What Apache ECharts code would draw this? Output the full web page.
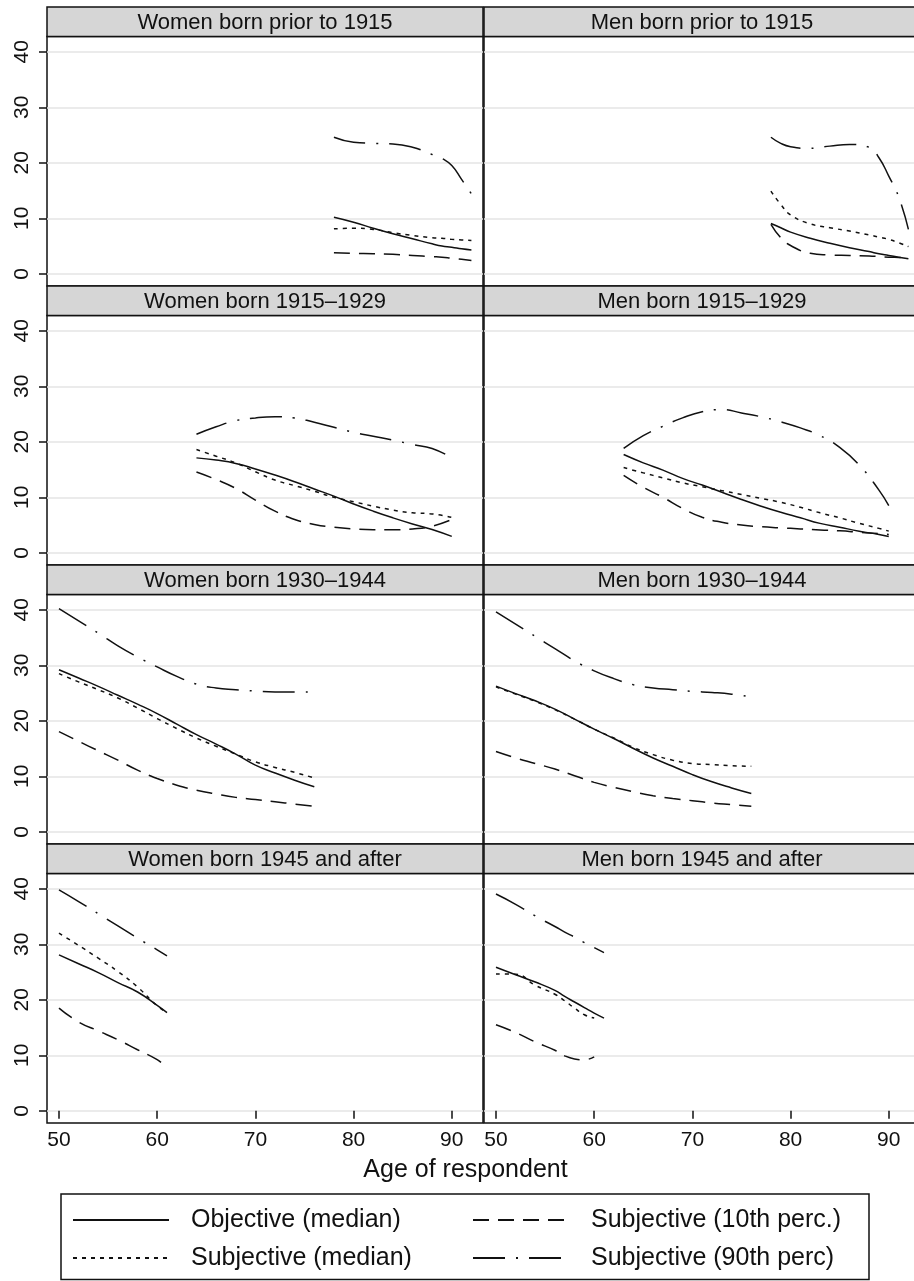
<!DOCTYPE html>
<html>
<head>
<meta charset="utf-8">
<script src="https://cdn.jsdelivr.net/npm/echarts@6/dist/echarts.min.js"></script>
<style>
html,body{margin:0;padding:0;background:#fff;}
#chart{width:914px;height:1281px;}
</style>
</head>
<body>
<div id="chart"></div>
<script>
// ---------- DATA ----------
const panelTitles = [
  'Women born prior to 1915', 'Men born prior to 1915',
  'Women born 1915\u20131929', 'Men born 1915\u20131929',
  'Women born 1930\u20131944', 'Men born 1930\u20131944',
  'Women born 1945 and after', 'Men born 1945 and after'
];
const seriesNames = ['Objective (median)', 'Subjective (median)', 'Subjective (10th perc.)', 'Subjective (90th perc)'];
const xTicks = [50, 60, 70, 80, 90];
const yTicks = [0, 10, 20, 30, 40];
const axisTitle = 'Age of respondent';

// Women born prior to 1915
const agesWomenPre1915 = [78, 80, 82, 84, 86, 88, 89, 90, 91, 92];
const objWomenPre1915  = [10.2, 9.3, 8.2, 7.2, 6.3, 5.4, 5.0, 4.8, 4.5, 4.3];
const medWomenPre1915  = [8.1, 8.2, 8.0, 7.4, 6.9, 6.5, 6.4, 6.2, 6.1, 6.0];
const p10WomenPre1915  = [3.8, 3.7, 3.6, 3.5, 3.3, 3.1, 3.0, 2.8, 2.6, 2.4];
const p90WomenPre1915  = [24.6, 23.7, 23.5, 23.4, 22.8, 21.5, 20.8, 19.5, 17.0, 14.4];

// Men born prior to 1915
const agesMenPre1915 = [78, 79, 80, 82, 84, 86, 88, 89, 90, 91, 92];
const objMenPre1915  = [9.05, 8.3, 7.5, 6.4, 5.5, 4.7, 4.0, 3.6, 3.3, 3.0, 2.7];
const medMenPre1915  = [14.9, 12.5, 10.6, 9.0, 8.3, 7.7, 7.0, 6.6, 6.2, 5.6, 4.9];
const p10MenPre1915  = [8.9, 6.5, 5.1, 3.7, 3.4, 3.3, 3.2, 3.1, 3.0, 2.95, 2.9];
const p90MenPre1915  = [24.6, 23.5, 22.9, 22.6, 23.0, 23.3, 22.8, 20.9, 17.6, 13.9, 8.0];

// Women born 1915-1929
const agesWomen1915 = [64, 66, 68, 70, 72, 74, 76, 78, 80, 82, 84, 86, 88, 90];
const objWomen1915  = [17.1, 16.7, 16.1, 15.1, 14.0, 12.8, 11.5, 10.2, 8.8, 7.5, 6.3, 5.2, 4.2, 2.95];
const medWomen1915  = [18.6, 17.4, 16.2, 14.6, 13.1, 12.1, 11.1, 10.0, 9.2, 8.4, 7.7, 7.2, 7.0, 6.4];
const p10Women1915  = [14.55, 13.2, 11.6, 9.5, 7.5, 6.0, 5.1, 4.6, 4.3, 4.15, 4.15, 4.3, 4.8, 6.0];
const p90Women1915  = [21.35, 22.7, 23.8, 24.3, 24.5, 24.3, 23.5, 22.6, 21.7, 21.0, 20.3, 19.5, 18.8, 17.1];

// Men born 1915-1929
const agesMen1915 = [63, 65, 67, 69, 71, 73, 75, 77, 79, 81, 83, 85, 87, 89, 90];
const objMen1915  = [17.7, 16.2, 14.9, 13.4, 12.2, 10.9, 9.6, 8.4, 7.3, 6.3, 5.3, 4.6, 3.9, 3.3, 2.95];
const medMen1915  = [15.35, 14.4, 13.5, 12.6, 11.9, 11.2, 10.5, 9.8, 9.1, 8.2, 7.2, 6.3, 5.3, 4.4, 3.9];
const p10Men1915  = [13.95, 11.8, 10.0, 8.0, 6.4, 5.5, 5.0, 4.7, 4.5, 4.3, 4.1, 3.95, 3.7, 3.45, 3.3];
const p90Men1915  = [18.8, 21.1, 22.8, 24.3, 25.4, 25.8, 25.2, 24.5, 23.6, 22.5, 21.1, 19.0, 15.8, 11.3, 8.5];

// Women born 1930-1944
const agesWomen1930 = [50, 52, 54, 56, 58, 60, 62, 64, 66, 68, 70, 72, 74, 76];
const objWomen1930  = [29.2, 27.7, 26.2, 24.6, 23.0, 21.3, 19.4, 17.5, 15.8, 14.0, 12.0, 10.6, 9.3, 8.1];
const medWomen1930  = [28.5, 27.0, 25.6, 24.1, 22.3, 20.4, 18.6, 16.9, 15.4, 14.0, 12.6, 11.6, 10.7, 9.7];
const p10Women1930  = [18.05, 16.3, 14.6, 12.9, 11.1, 9.6, 8.4, 7.5, 6.8, 6.2, 5.8, 5.4, 5.0, 4.6];
const p90Women1930  = [40.2, 38.0, 35.8, 33.5, 31.5, 29.7, 28.0, 26.6, 25.9, 25.6, 25.35, 25.2, 25.2, 25.2];

// Men born 1930-1944
const agesMen1930 = [50, 52, 54, 56, 58, 60, 62, 64, 66, 68, 70, 72, 74, 76];
const objMen1930  = [26.25, 24.9, 23.6, 22.1, 20.3, 18.5, 16.8, 15.0, 13.3, 11.8, 10.3, 9.0, 7.9, 6.9];
const medMen1930  = [26.1, 24.8, 23.5, 22.0, 20.3, 18.5, 16.9, 15.2, 13.9, 12.9, 12.3, 12.1, 11.9, 11.8];
const p10Men1930  = [14.45, 13.3, 12.3, 11.3, 10.1, 8.9, 8.0, 7.2, 6.5, 6.0, 5.6, 5.2, 4.9, 4.6];
const p90Men1930  = [39.6, 37.4, 35.2, 33.0, 30.8, 29.0, 27.6, 26.5, 25.9, 25.6, 25.3, 25.1, 24.8, 24.3];

// Women born 1945 and after
const agesWomen1945 = [50, 52, 54, 56, 58, 60, 61];
const objWomen1945  = [28.1, 26.5, 24.9, 23.1, 21.4, 19.0, 17.7];
const medWomen1945  = [32.0, 29.8, 27.5, 25.1, 22.3, 18.9, 17.7];
const p10Women1945  = [18.5, 16.0, 14.4, 12.8, 11.0, 9.2, 7.7];
const p90Women1945  = [39.8, 37.7, 35.5, 33.3, 31.1, 29.0, 27.9];

// Men born 1945 and after
const agesMen1945 = [50, 52, 54, 56, 57, 58, 59, 60, 61];
const objMen1945  = [25.85, 24.5, 23.2, 21.7, 20.6, 19.6, 18.6, 17.6, 16.7];
const medMen1945  = [24.65, 24.6, 22.6, 21.0, 19.8, 18.5, 17.3, 16.7, null];
const p10Men1945  = [15.5, 14.1, 12.4, 10.9, 9.9, 9.35, 9.2, 9.7, null];
const p90Men1945  = [39.05, 37.2, 35.1, 33.2, 32.2, 31.3, 30.3, 29.4, 28.5];

const panels = [
  {ages: agesWomenPre1915, values: [objWomenPre1915, medWomenPre1915, p10WomenPre1915, p90WomenPre1915]},
  {ages: agesMenPre1915,   values: [objMenPre1915, medMenPre1915, p10MenPre1915, p90MenPre1915]},
  {ages: agesWomen1915,    values: [objWomen1915, medWomen1915, p10Women1915, p90Women1915]},
  {ages: agesMen1915,      values: [objMen1915, medMen1915, p10Men1915, p90Men1915]},
  {ages: agesWomen1930,    values: [objWomen1930, medWomen1930, p10Women1930, p90Women1930]},
  {ages: agesMen1930,      values: [objMen1930, medMen1930, p10Men1930, p90Men1930]},
  {ages: agesWomen1945,    values: [objWomen1945, medWomen1945, p10Women1945, p90Women1945]},
  {ages: agesMen1945,      values: [objMen1945, medMen1945, p10Men1945, p90Men1945]}
];

// ---------- LAYOUT / STYLE ----------
const FONT = '"Liberation Sans", Arial, Helvetica, sans-serif';
const ROW_TOP = [7, 286, 565, 844];
const HEADER_H = 29.5;
const PLOT_H = 249.5;
const COL_LEFT = [47, 484];
const COL_W = 436;
const X_MIN = 48.78, X_MAX = 93.18;
const Y_MIN = -2.2, Y_MAX = 42.75;
const dashTypes = ['solid', [4, 5], [16, 9], [32, 11, 2, 11]];

const grids = [], xAxes = [], yAxes = [], series = [], graphics = [];

panels.forEach((p, i) => {
  const row = Math.floor(i / 2), col = i % 2;
  const top = ROW_TOP[row] + HEADER_H;
  grids.push({
    left: COL_LEFT[col], top: top, width: COL_W, height: PLOT_H,
    show: true, borderColor: '#111', borderWidth: 1.5, backgroundColor: '#fff',
    containLabel: false, outerBoundsMode: 'none'
  });
  const bottomRow = row === 3;
  xAxes.push({
    type: 'value', gridIndex: i, min: X_MIN, max: X_MAX,
    axisLine: {show: false},
    splitLine: {show: false},
    axisTick: {show: bottomRow, customValues: xTicks, length: 8, lineStyle: {color: '#111', width: 1.5}},
    axisLabel: {show: bottomRow, customValues: xTicks, fontSize: 21, fontFamily: FONT, color: '#111', margin: 7}
  });
  yAxes.push({
    type: 'value', gridIndex: i, min: Y_MIN, max: Y_MAX,
    axisLine: {show: false},
    splitLine: {show: true, lineStyle: {color: '#e4e4e4', width: 1.5}},
    axisTick: {show: col === 0, customValues: yTicks, length: 8, lineStyle: {color: '#111', width: 1.5}},
    axisLabel: {show: col === 0, customValues: yTicks, rotate: 90, fontSize: 21, fontFamily: FONT, color: '#111', margin: 14}
  });
  seriesNames.forEach((name, s) => {
    const vals = p.values[s];
    const data = [];
    p.ages.forEach((a, k) => { if (vals[k] !== null) data.push([a, vals[k]]); });
    series.push({
      type: 'line', name: name, xAxisIndex: i, yAxisIndex: i, data: data,
      symbol: 'none', showSymbol: false, smooth: 0.5,
      lineStyle: {color: '#111', width: 1.5, type: dashTypes[s]},
      itemStyle: {color: 'rgba(0,0,0,0)'},
      silent: true, animation: false
    });
  });
  // panel header
  graphics.push({
    type: 'rect', shape: {x: COL_LEFT[col], y: ROW_TOP[row], width: COL_W, height: HEADER_H},
    style: {fill: '#d6d6d6', stroke: '#111', lineWidth: 1.5}, z: 10
  });
  graphics.push({
    type: 'text', x: COL_LEFT[col] + COL_W / 2, y: ROW_TOP[row] + HEADER_H / 2 + 1,
    style: {text: panelTitles[i], font: '22px ' + FONT, fill: '#111', align: 'center', verticalAlign: 'middle'}, z: 11
  });
});

// axis title
graphics.push({
  type: 'text', x: 465.5, y: 1170,
  style: {text: axisTitle, font: '25px ' + FONT, fill: '#111', align: 'center', verticalAlign: 'middle'}, z: 11
});
// legend frame
graphics.push({
  type: 'rect', shape: {x: 61, y: 1194, width: 808, height: 85.5},
  style: {fill: 'none', stroke: '#111', lineWidth: 1.5}, z: 1
});

const legendCommon = {
  orient: 'vertical', padding: 0, itemWidth: 96, itemHeight: 14, itemGap: 10,
  selectedMode: false,
  itemStyle: {opacity: 0},
  textStyle: {fontSize: 25, lineHeight: 28, fontFamily: FONT, color: '#111', padding: [0, 0, 0, 17]}
};

const option = {
  backgroundColor: '#fff',
  animation: false,
  grid: grids,
  xAxis: xAxes,
  yAxis: yAxes,
  series: series,
  legend: [
    Object.assign({}, legendCommon, {data: [seriesNames[0], seriesNames[1]], left: 72, top: 1206}),
    Object.assign({}, legendCommon, {data: [seriesNames[2], seriesNames[3]], left: 472, top: 1206})
  ],
  graphic: graphics
};

const chart = echarts.init(document.getElementById('chart'), null, {renderer: 'canvas'});
chart.setOption(option);
</script>
</body>
</html>
